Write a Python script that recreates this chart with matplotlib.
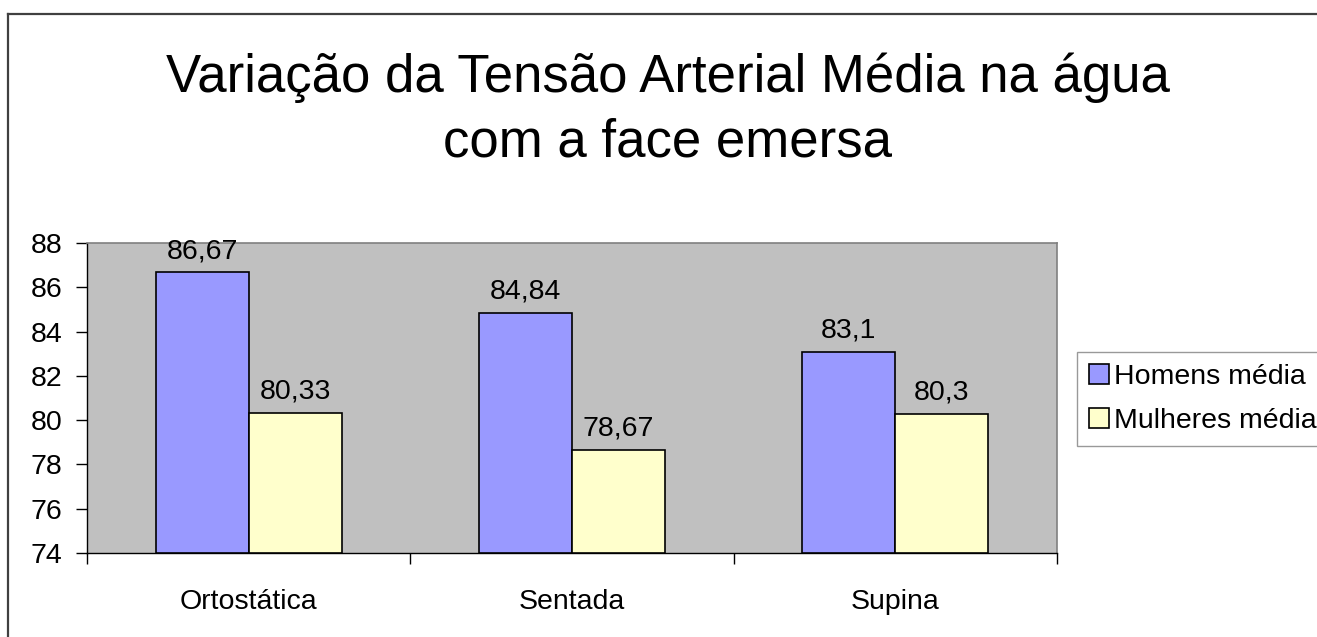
import matplotlib
matplotlib.use("Agg")
import matplotlib.pyplot as plt
from matplotlib.lines import Line2D
import numpy as np

plt.rcParams['font.family'] = ['Liberation Sans', 'DejaVu Sans']

categories = ["Ortostática", "Sentada", "Supina"]
homens = [86.67, 84.84, 83.1]
mulheres = [80.33, 78.67, 80.3]
homens_labels = ["86,67", "84,84", "83,1"]
mulheres_labels = ["80,33", "78,67", "80,3"]
series_names = ["Homens média", "Mulheres média"]
yticks = [74, 76, 78, 80, 82, 84, 86, 88]

W, H = 1317, 637
FS = 20.5
fig = plt.figure(figsize=(W / 100, H / 100), dpi=100)
fig.patch.set_facecolor('white')

# chart frame (top and left edges visible)
fig.add_artist(Line2D([8 / W, 1.0], [1 - 14 / H, 1 - 14 / H], color='#404040', lw=1.6,
                      transform=fig.transFigure))
fig.add_artist(Line2D([8 / W, 8 / W], [1 - 14 / H, 0.0], color='#404040', lw=1.6,
                      transform=fig.transFigure))

ax = fig.add_axes([87 / W, 1 - 553 / H, (1057 - 87) / W, (553 - 243) / H])
ax.set_facecolor('#C0C0C0')

x = np.arange(len(categories))
bw = 93 / 323
base = 74
b1 = ax.bar(x - bw / 2, np.array(homens) - base, bw, bottom=base, color='#9999FF',
            edgecolor='black', linewidth=1.2, label=series_names[0], zorder=3)
b2 = ax.bar(x + bw / 2, np.array(mulheres) - base, bw, bottom=base, color='#FFFFCC',
            edgecolor='black', linewidth=1.2, label=series_names[1], zorder=3)

for xi, v, s in zip(x - bw / 2, homens, homens_labels):
    ax.annotate(s, (xi, v), xytext=(0, 6), textcoords='offset points',
                ha='center', va='bottom', fontsize=FS, clip_on=False)
for xi, v, s in zip(x + bw / 2, mulheres, mulheres_labels):
    ax.annotate(s, (xi, v), xytext=(0, 6), textcoords='offset points',
                ha='center', va='bottom', fontsize=FS, clip_on=False)

ax.set_xlim(-0.5, len(categories) - 0.5)
ax.set_ylim(74, 88)
ax.set_yticks(yticks)
ax.set_yticklabels([str(t) for t in yticks], fontsize=FS)
ax.tick_params(axis='y', length=8, width=1, color='black', pad=10)

ax.set_xticks(np.arange(len(categories) + 1) - 0.5)
ax.set_xticklabels([])
ax.tick_params(axis='x', which='major', length=8, width=1, color='black')
ax.set_xticks(x, minor=True)
ax.set_xticklabels(categories, minor=True, fontsize=FS)
ax.tick_params(axis='x', which='minor', length=0, pad=26)

for side in ['top', 'right']:
    ax.spines[side].set_color('#808080')
    ax.spines[side].set_linewidth(1.2)
for side in ['left', 'bottom']:
    ax.spines[side].set_color('black')
    ax.spines[side].set_linewidth(1.0)

fig.text(0.507, 1 - 110 / H, "Variação da Tensão Arterial Média na água\ncom a face emersa",
         ha='center', va='center', fontsize=38, linespacing=1.36)

leg = fig.legend(handles=[b1, b2], labels=series_names, loc='upper left',
                 bbox_to_anchor=(1077 / W, 1 - 352 / H), fontsize=FS,
                 frameon=True, fancybox=False, edgecolor='#808080',
                 handlelength=0.72, handleheight=0.72, handletextpad=0.15,
                 borderpad=0.42, labelspacing=0.62, borderaxespad=0)
leg.get_frame().set_linewidth(1.0)

fig.savefig("out.png", dpi=100)
